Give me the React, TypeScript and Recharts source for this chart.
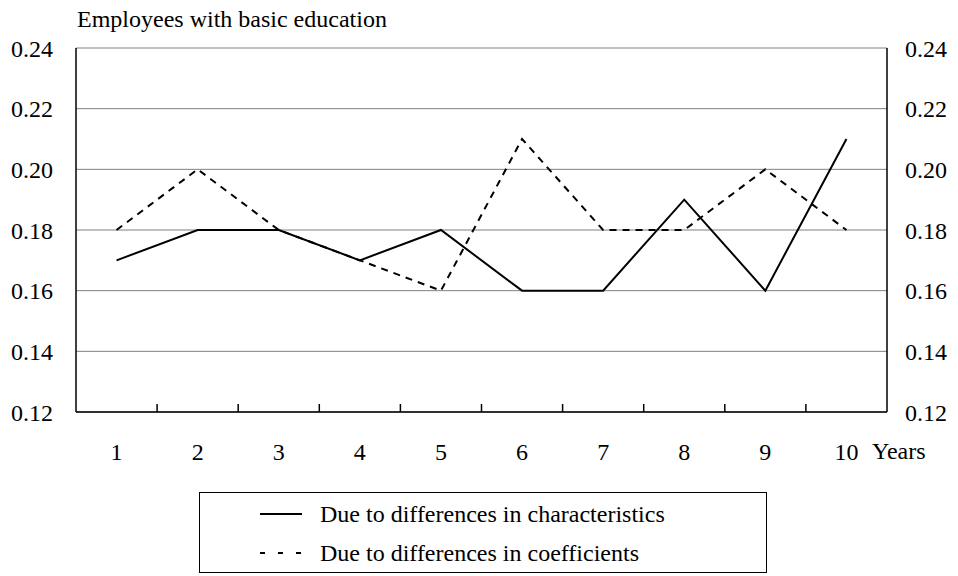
import React from 'react';
import { LineChart, Line, XAxis, YAxis, CartesianGrid, Legend, Label } from 'recharts';

const years = [1, 2, 3, 4, 5, 6, 7, 8, 9, 10];
const characteristics = [0.17, 0.18, 0.18, 0.17, 0.18, 0.16, 0.16, 0.19, 0.16, 0.21];
const coefficients = [0.18, 0.2, 0.18, 0.17, 0.16, 0.21, 0.18, 0.18, 0.2, 0.18];
const yTicks = [0.12, 0.14, 0.16, 0.18, 0.2, 0.22, 0.24];
const boundaryTicks = [1.5, 2.5, 3.5, 4.5, 5.5, 6.5, 7.5, 8.5, 9.5];
const title = 'Employees with basic education';
const xUnit = 'Years';
const nameCharacteristics = 'Due to differences in characteristics';
const nameCoefficients = 'Due to differences in coefficients';

const data = years.map((y, i) => ({
  year: y,
  characteristics: characteristics[i],
  coefficients: coefficients[i],
}));

const allXTicks = [...years, ...boundaryTicks].sort((a, b) => a - b);

const FONT = '"Liberation Serif", "Times New Roman", serif';
const FS = 24;
const DASH = '7 6';

const XTick = (props: any) => {
  const { x, y, payload } = props;
  const v = payload.value;
  if (Number.isInteger(v)) {
    return (
      <text
        x={x}
        y={y + 31}
        dy="0.71em"
        textAnchor="middle"
        fill="#000"
        fontSize={FS}
        fontFamily={FONT}
      >
        {v}
      </text>
    );
  }
  return <line x1={x} y1={y} x2={x} y2={y - 8} stroke="#000" strokeWidth={1.5} />;
};

const LegendBox = (props: any) => {
  const payload = props.payload || [];
  return (
    <div
      style={{
        width: 568,
        height: 81,
        boxSizing: 'border-box',
        border: '1px solid #000',
        fontFamily: FONT,
        fontSize: FS,
        color: '#000',
        position: 'relative',
        background: '#fff',
      }}
    >
      {payload.map((entry: any, i: number) => (
        <div
          key={i}
          style={{
            position: 'absolute',
            left: 60,
            top: 7 + i * 39,
            height: 28,
            lineHeight: '28px',
            display: 'flex',
            alignItems: 'center',
            whiteSpace: 'nowrap',
          }}
        >
          <svg width={42} height={4} style={{ display: 'block' }}>
            <line
              x1={0}
              y1={2}
              x2={42}
              y2={2}
              stroke="#000"
              strokeWidth={2}
              strokeDasharray={entry.dataKey === 'coefficients' ? '5 13' : undefined}
            />
          </svg>
          <span style={{ marginLeft: 18 }}>{entry.value}</span>
        </div>
      ))}
    </div>
  );
};

export default function App() {
  const tickStyle = { fill: '#000', fontSize: FS, fontFamily: FONT };
  return (
    <div style={{ position: 'absolute', left: 0, top: 0, width: 958, height: 576, background: '#fff' }}>
      <div
        style={{
          position: 'absolute',
          left: 77,
          top: 7,
          fontFamily: FONT,
          fontSize: FS,
          lineHeight: '24px',
          color: '#000',
          whiteSpace: 'nowrap',
        }}
      >
        {title}
      </div>
      <LineChart
        width={958}
        height={576}
        data={data}
        margin={{ top: 48, right: 0, bottom: 88, left: 0 }}
      >
        <CartesianGrid yAxisId="left" vertical={false} horizontal stroke="#808080" strokeWidth={1} />
        <XAxis
          dataKey="year"
          type="number"
          domain={[0.5, 10.5]}
          allowDataOverflow
          ticks={allXTicks}
          interval={0}
          height={76}
          tickLine={false}
          tickSize={0}
          tickMargin={0}
          axisLine={{ stroke: '#000', strokeWidth: 1.5 }}
          tick={<XTick />}
        >
          <Label
            value={xUnit}
            position="right"
            offset={-15}
            style={{ fill: '#000', fontSize: FS, fontFamily: FONT }}
          />
        </XAxis>
        <YAxis
          yAxisId="left"
          orientation="left"
          width={76}
          domain={[0.12, 0.24]}
          allowDataOverflow
          ticks={yTicks}
          interval={0}
          tickFormatter={(v: number) => v.toFixed(2)}
          tickLine={false}
          tickSize={0}
          tickMargin={23}
          axisLine={{ stroke: '#000', strokeWidth: 1.5 }}
          tick={tickStyle}
        />
        <YAxis
          yAxisId="right"
          orientation="right"
          width={71}
          domain={[0.12, 0.24]}
          allowDataOverflow
          ticks={yTicks}
          interval={0}
          tickFormatter={(v: number) => v.toFixed(2)}
          tickLine={false}
          tickSize={0}
          tickMargin={18}
          axisLine={{ stroke: '#000', strokeWidth: 1.5 }}
          tick={tickStyle}
        />
        <Line
          yAxisId="left"
          type="linear"
          dataKey="characteristics"
          name={nameCharacteristics}
          stroke="#000"
          strokeWidth={2}
          dot={false}
          isAnimationActive={false}
        />
        <Line
          yAxisId="left"
          type="linear"
          dataKey="coefficients"
          name={nameCoefficients}
          stroke="#000"
          strokeWidth={2}
          strokeDasharray={DASH}
          dot={false}
          isAnimationActive={false}
        />
        <Legend
          layout="horizontal"
          verticalAlign="middle"
          align="center"
          content={<LegendBox />}
          wrapperStyle={{ left: 199, top: 492, width: 568, height: 81 }}
        />
      </LineChart>
    </div>
  );
}
